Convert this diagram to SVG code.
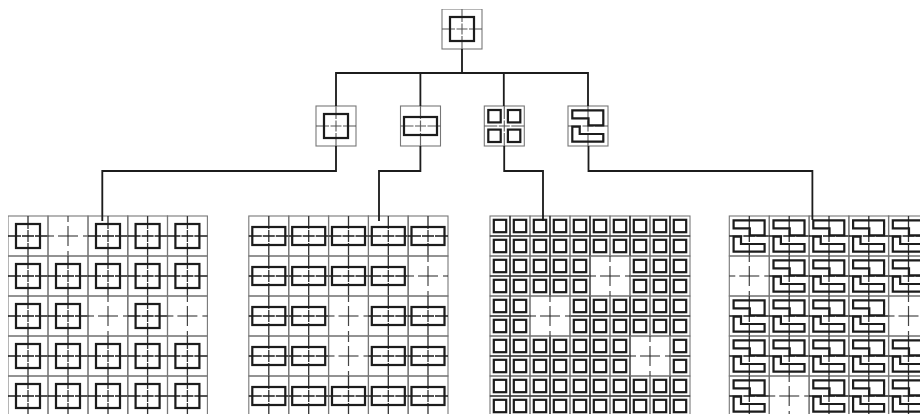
<svg xmlns="http://www.w3.org/2000/svg" width="920" height="414" viewBox="0 0 920 414">
<style>
.frame{fill:none;stroke:#777;stroke-width:1.1}
.h{stroke:#1e1e1e;stroke-width:1.3;stroke-dasharray:13 1 12 1 13;fill:none}
.v{stroke:#303030;stroke-width:1.3;stroke-dasharray:13 1 12 1 13;fill:none}
.he{stroke:#222;stroke-width:1.2;stroke-dasharray:6 4 20 5 5;fill:none}
.ve{stroke:#444;stroke-width:1.2;stroke-dasharray:6 4 20 5 5;fill:none}
.h2{stroke:#555;stroke-width:1.2;stroke-dasharray:13 1.5 11 1.5 13;fill:none}
.v2{stroke:#666;stroke-width:1.2;stroke-dasharray:13 1.5 11 1.5 13;fill:none}
.g{fill:none;stroke:#1a1a1a;stroke-width:2.2}
.link{fill:none;stroke:#1a1a1a;stroke-width:1.8}
.bar{stroke:#2a2a2a;stroke-width:1.2;fill:none}
</style>
<defs>
<filter id="soft" x="0" y="0" width="100%" height="100%"><feGaussianBlur stdDeviation="0.35"/></filter>
<g id="cross"><rect class="frame" x="-20" y="-20" width="40" height="40"/><path class="v" d="M0-20V20"/><path class="h" d="M-20 0H20"/></g>
<g id="empty"><rect class="frame" x="-20" y="-20" width="40" height="40"/><path class="ve" d="M0-20V20"/><path class="he" d="M-20 0H20"/></g>
<g id="crossT"><rect class="frame" x="-20" y="-20" width="40" height="40"/><path class="v2" d="M0-20V20"/><path class="h2" d="M-20 0H20"/></g>
<rect id="gSq" class="g" x="-12" y="-12" width="24" height="24"/>
<rect id="gRect" class="g" x="-16.5" y="-9" width="33" height="18"/>
<g id="gFour"><rect class="g" x="-16" y="-16" width="12.4" height="12.4"/><rect class="g" x="3.6" y="-16" width="12.4" height="12.4"/><rect class="g" x="-16" y="3.6" width="12.4" height="12.4"/><rect class="g" x="3.6" y="3.6" width="12.4" height="12.4"/></g>
<path id="gS" class="g" d="M-15.7-15.7H15.3V-.6H.5V-7.7H-15.7ZM-15.7 .6H-8.3V8H15.3V15.7H-15.7Z"/>
<g id="cSq"><use href="#cross"/><use href="#gSq"/></g>
<g id="cRect"><use href="#cross"/><use href="#gRect"/></g>
<g id="cS"><use href="#cross"/><use href="#gS"/></g>
<g id="pair"><rect class="frame" x="-10" y="-20" width="20" height="20"/><rect class="frame" x="-10" y="0" width="20" height="20"/><rect class="g" x="-6.2" y="-16.2" width="12.4" height="12.4"/><rect class="g" x="-6.2" y="3.8" width="12.4" height="12.4"/></g>
</defs>
<rect width="920" height="414" fill="#fff"/>
<g filter="url(#soft)">
<g id="root-node" transform="translate(462 29)"><use href="#crossT"/><use href="#gSq"/></g>
<g id="node-square" transform="translate(336 126)"><use href="#crossT"/><use href="#gSq"/></g>
<g id="node-rect" transform="translate(420.5 126)"><use href="#crossT"/><use href="#gRect"/></g>
<g id="node-four" transform="translate(504.3 126)"><use href="#crossT"/><use href="#gFour"/></g>
<g id="node-s" transform="translate(588 126)"><use href="#crossT"/><use href="#gS"/></g>

<g id="grid-square">
<use href="#cSq" x="28" y="236"/><use href="#empty" x="68" y="236"/><use href="#cSq" x="108" y="236"/><use href="#cSq" x="147.6" y="236"/><use href="#cSq" x="187.4" y="236"/>
<use href="#cSq" x="28" y="276"/><use href="#cSq" x="68" y="276"/><use href="#cSq" x="108" y="276"/><use href="#cSq" x="147.6" y="276"/><use href="#cSq" x="187.4" y="276"/>
<use href="#cSq" x="28" y="316"/><use href="#cSq" x="68" y="316"/><use href="#empty" x="108" y="316"/><use href="#cSq" x="147.6" y="316"/><use href="#empty" x="187.4" y="316"/>
<use href="#cSq" x="28" y="356"/><use href="#cSq" x="68" y="356"/><use href="#cSq" x="108" y="356"/><use href="#cSq" x="147.6" y="356"/><use href="#cSq" x="187.4" y="356"/>
<use href="#cSq" x="28" y="396"/><use href="#cSq" x="68" y="396"/><use href="#cSq" x="108" y="396"/><use href="#cSq" x="147.6" y="396"/><use href="#cSq" x="187.4" y="396"/>
</g>

<g id="grid-rect">
<use href="#cRect" x="268.8" y="236"/><use href="#cRect" x="308.7" y="236"/><use href="#cRect" x="348.5" y="236"/><use href="#cRect" x="388.3" y="236"/><use href="#cRect" x="428" y="236"/>
<use href="#cRect" x="268.8" y="276"/><use href="#cRect" x="308.7" y="276"/><use href="#cRect" x="348.5" y="276"/><use href="#cRect" x="388.3" y="276"/><use href="#empty" x="428" y="276"/>
<use href="#cRect" x="268.8" y="316"/><use href="#cRect" x="308.7" y="316"/><use href="#empty" x="348.5" y="316"/><use href="#cRect" x="388.3" y="316"/><use href="#cRect" x="428" y="316"/>
<use href="#cRect" x="268.8" y="356"/><use href="#cRect" x="308.7" y="356"/><use href="#empty" x="348.5" y="356"/><use href="#cRect" x="388.3" y="356"/><use href="#cRect" x="428" y="356"/>
<use href="#cRect" x="268.8" y="396"/><use href="#cRect" x="308.7" y="396"/><use href="#cRect" x="348.5" y="396"/><use href="#cRect" x="388.3" y="396"/><use href="#cRect" x="428" y="396"/>
</g>

<g id="grid-four">
<use href="#pair" x="500" y="236"/><use href="#pair" x="520" y="236"/><use href="#pair" x="540" y="236"/><use href="#pair" x="560" y="236"/><use href="#pair" x="580" y="236"/><use href="#pair" x="600" y="236"/><use href="#pair" x="620" y="236"/><use href="#pair" x="640" y="236"/><use href="#pair" x="660" y="236"/><use href="#pair" x="680" y="236"/>
<use href="#pair" x="500" y="276"/><use href="#pair" x="520" y="276"/><use href="#pair" x="540" y="276"/><use href="#pair" x="560" y="276"/><use href="#pair" x="580" y="276"/><use href="#pair" x="640" y="276"/><use href="#pair" x="660" y="276"/><use href="#pair" x="680" y="276"/>
<use href="#pair" x="500" y="316"/><use href="#pair" x="520" y="316"/><use href="#pair" x="580" y="316"/><use href="#pair" x="600" y="316"/><use href="#pair" x="620" y="316"/><use href="#pair" x="640" y="316"/><use href="#pair" x="660" y="316"/><use href="#pair" x="680" y="316"/>
<use href="#pair" x="500" y="356"/><use href="#pair" x="520" y="356"/><use href="#pair" x="540" y="356"/><use href="#pair" x="560" y="356"/><use href="#pair" x="580" y="356"/><use href="#pair" x="600" y="356"/><use href="#pair" x="620" y="356"/><use href="#pair" x="680" y="356"/>
<use href="#pair" x="500" y="396"/><use href="#pair" x="520" y="396"/><use href="#pair" x="540" y="396"/><use href="#pair" x="560" y="396"/><use href="#pair" x="580" y="396"/><use href="#pair" x="600" y="396"/><use href="#pair" x="620" y="396"/><use href="#pair" x="640" y="396"/><use href="#pair" x="660" y="396"/><use href="#pair" x="680" y="396"/>
<path class="bar" d="M490 236H690M490 396H690M490 276H590M630 276H690M490 316H530M570 316H690M490 356H630M670 356H690"/>
<path class="bar" d="M510 216V416M590 216V416M630 216V256M630 296V416M550 216V296M550 336V416M670 216V336M670 376V416"/>
<use href="#empty" x="610" y="276"/><use href="#empty" x="550" y="316"/><use href="#empty" x="650" y="356"/>
</g>

<g id="grid-s">
<use href="#cS" x="749.3" y="236"/><use href="#cS" x="789.2" y="236"/><use href="#cS" x="829" y="236"/><use href="#cS" x="868.8" y="236"/><use href="#cS" x="908.5" y="236"/>
<use href="#empty" x="749.3" y="276"/><use href="#cS" x="789.2" y="276"/><use href="#cS" x="829" y="276"/><use href="#cS" x="868.8" y="276"/><use href="#cS" x="908.5" y="276"/>
<use href="#cS" x="749.3" y="316"/><use href="#cS" x="789.2" y="316"/><use href="#cS" x="829" y="316"/><use href="#cS" x="868.8" y="316"/><use href="#empty" x="908.5" y="316"/>
<use href="#cS" x="749.3" y="356"/><use href="#cS" x="789.2" y="356"/><use href="#cS" x="829" y="356"/><use href="#cS" x="868.8" y="356"/><use href="#cS" x="908.5" y="356"/>
<use href="#cS" x="749.3" y="396"/><use href="#empty" x="789.2" y="396"/><use href="#cS" x="829" y="396"/><use href="#cS" x="868.8" y="396"/><use href="#cS" x="908.5" y="396"/>
</g>

<g id="connectors">
<path class="link" d="M462 49V73M336 106V73H588V106M420.4 73V106M503.8 73V106"/>
<path class="link" d="M336 146V171H102.3V221"/>
<path class="link" d="M420.4 146V171H379V221"/>
<path class="link" d="M504.2 146V171H543V221"/>
<path class="link" d="M588.5 146V171H812.4V220"/>
</g>
</g>
</svg>
